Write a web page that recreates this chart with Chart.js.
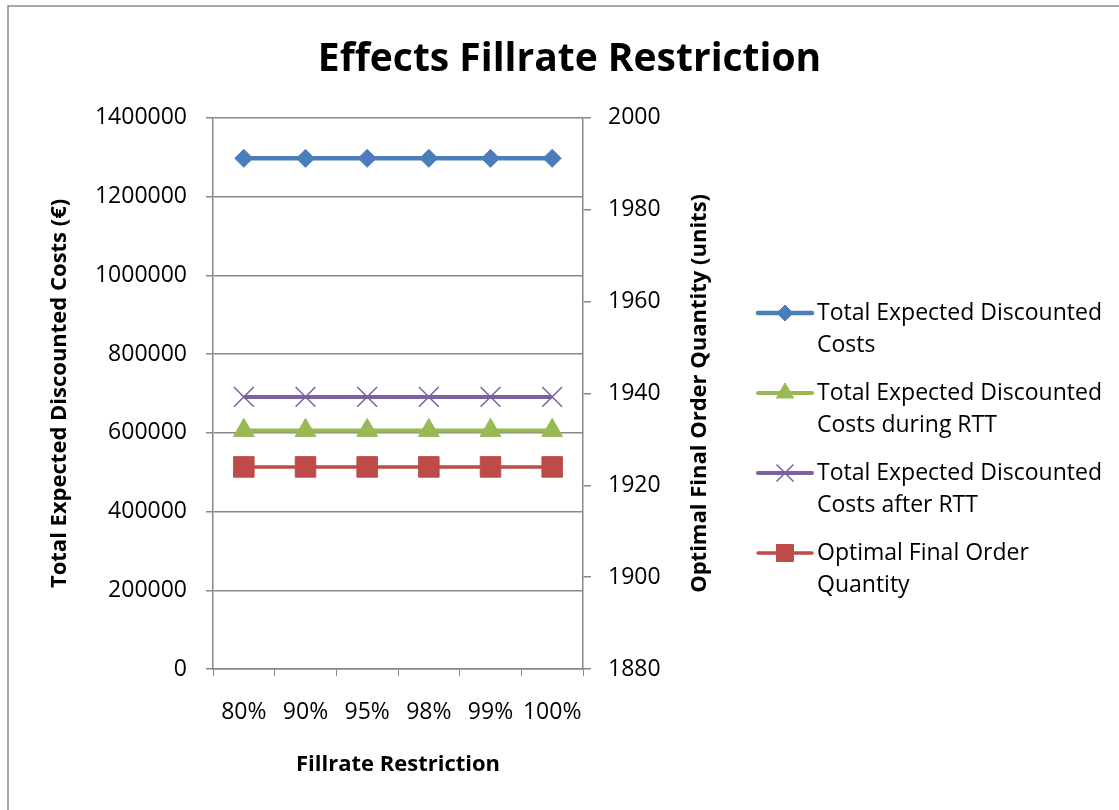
<!DOCTYPE html>
<html>
<head>
<meta charset="utf-8">
<title>Effects Fillrate Restriction</title>
<script src="https://cdn.jsdelivr.net/npm/chart.js@4.4.1/dist/chart.umd.min.js"></script>
<style>
  html, body { margin: 0; padding: 0; background: #ffffff; }
  #wrap { width: 1119px; height: 810px; }
</style>
</head>
<body>
<div id="wrap"><canvas id="chart" width="1119" height="810"></canvas></div>
<script>
// Fillrate levels on the x axis
const categories = ['80%', '90%', '95%', '98%', '99%', '100%'];

// Cost series (left axis, €)
const totalCosts      = [1297000, 1297000, 1297000, 1297000, 1297000, 1297000];
const costsDuringRTT  = [606000, 606000, 606000, 606000, 606000, 606000];
const costsAfterRTT   = [691000, 691000, 691000, 691000, 691000, 691000];

// Order quantity series (right axis, units)
const finalOrderQty   = [1924, 1924, 1924, 1924, 1924, 1924];

// Axis ranges
const leftAxis  = { min: 0, max: 1400000, step: 200000 };
const rightAxis = { min: 1880, max: 2000, step: 20 };

const chartTitle = 'Effects Fillrate Restriction';
const xTitle = 'Fillrate Restriction';
const yLeftTitle = 'Total Expected Discounted Costs (€)';
const yRightTitle = 'Optimal Final Order Quantity (units)';

const seriesNames = [
  ['Total Expected Discounted', 'Costs'],
  ['Total Expected Discounted', 'Costs during RTT'],
  ['Total Expected Discounted', 'Costs after RTT'],
  ['Optimal Final Order', 'Quantity']
];

const FONT = "'Open Sans', 'DejaVu Sans', sans-serif";
const GRID = '#888888';

const BLUE = '#4A7EBB', GREEN = '#98B954', PURPLE = '#7D60A0', RED = '#BE4B48';

// Plain integer tick text, no thousands separators
const plainTick = (v) => String(v);

// Outer frame of the chart object
const framePlugin = {
  id: 'frame',
  beforeDraw(chart) {
    const ctx = chart.ctx;
    ctx.save();
    ctx.fillStyle = '#ffffff';
    ctx.fillRect(0, 0, chart.width, chart.height);
    ctx.strokeStyle = '#8a8a8a';
    ctx.lineWidth = 1.5;
    ctx.strokeRect(8, 6, chart.width + 50, chart.height + 50);
    ctx.restore();
  }
};

// Right axis title (reads bottom-to-top) and the side legend
const sidePlugin = {
  id: 'side',
  afterDraw(chart) {
    const ctx = chart.ctx;
    const area = chart.chartArea;
    ctx.save();
    ctx.fillStyle = '#000000';
    ctx.font = 'bold 22px ' + FONT;
    ctx.textAlign = 'center';
    ctx.textBaseline = 'middle';
    ctx.translate(700, (area.top + area.bottom) / 2);
    ctx.rotate(-Math.PI / 2);
    ctx.fillText(yRightTitle, 0, 0);
    ctx.restore();

    const ds = chart.data.datasets;
    const x0 = 758, x1 = 812, xm = 785, tx = 817;
    const firstY = 313, rowGap = 80, lineGap = 32;
    ds.forEach((d, i) => {
      const y = firstY + i * rowGap;
      ctx.save();
      ctx.strokeStyle = d.borderColor;
      ctx.lineWidth = d.borderWidth;
      ctx.lineCap = 'round';
      ctx.beginPath();
      ctx.moveTo(x0, y);
      ctx.lineTo(x1, y);
      ctx.stroke();
      ctx.restore();

      ctx.save();
      ctx.fillStyle = d.pointBackgroundColor;
      ctx.strokeStyle = d.pointBorderColor;
      ctx.lineWidth = d.pointBorderWidth;
      Chart.helpers.drawPoint(ctx, {
        pointStyle: d.pointStyle,
        radius: d.legendRadius,
        borderWidth: d.pointBorderWidth
      }, xm, y);
      ctx.restore();

      ctx.save();
      ctx.fillStyle = '#000000';
      ctx.font = '23px ' + FONT;
      ctx.textAlign = 'left';
      ctx.textBaseline = 'middle';
      seriesNames[i].forEach((line, j) => ctx.fillText(line, tx, y + j * lineGap));
      ctx.restore();
    });
  }
};

new Chart(document.getElementById('chart'), {
  type: 'line',
  data: {
    labels: categories,
    datasets: [
      {
        label: seriesNames[0].join(' '),
        data: totalCosts, yAxisID: 'y',
        borderColor: BLUE, borderWidth: 4.5,
        pointStyle: 'rectRot', pointRadius: 9, legendRadius: 8,
        pointBackgroundColor: BLUE, pointBorderColor: BLUE, pointBorderWidth: 1
      },
      {
        label: seriesNames[1].join(' '),
        data: costsDuringRTT, yAxisID: 'y',
        borderColor: GREEN, borderWidth: 4,
        pointStyle: 'triangle', pointRadius: 12, legendRadius: 10,
        pointBackgroundColor: GREEN, pointBorderColor: GREEN, pointBorderWidth: 1
      },
      {
        label: seriesNames[2].join(' '),
        data: costsAfterRTT, yAxisID: 'y',
        borderColor: PURPLE, borderWidth: 4,
        pointStyle: 'crossRot', pointRadius: 14, legendRadius: 12,
        pointBackgroundColor: PURPLE, pointBorderColor: PURPLE, pointBorderWidth: 1.5
      },
      {
        label: seriesNames[3].join(' '),
        data: finalOrderQty, yAxisID: 'y1',
        borderColor: RED, borderWidth: 3.5,
        pointStyle: 'rect', pointRadius: 14.5, legendRadius: 12,
        pointBackgroundColor: RED, pointBorderColor: RED, pointBorderWidth: 1
      }
    ]
  },
  options: {
    responsive: false,
    animation: false,
    devicePixelRatio: 1,
    layout: { padding: { left: 20, top: 12, right: 0, bottom: 0 } },
    elements: { line: { tension: 0 } },
    plugins: {
      legend: { display: false },
      tooltip: { enabled: false },
      title: {
        display: true,
        text: chartTitle,
        color: '#000000',
        font: { family: FONT, size: 39, weight: 'bold', lineHeight: 1.2 },
        padding: { top: 24, bottom: 35 }
      }
    },
    scales: {
      x: {
        offset: true,
        afterFit(s) { s.height = 141; },
        grid: { display: true, drawOnChartArea: false, drawTicks: true, tickLength: 7, offset: true, color: GRID },
        border: { display: true, color: GRID, width: 1.5 },
        ticks: { color: '#000000', font: { family: FONT, size: 23 }, padding: 23, maxRotation: 0, minRotation: 0, autoSkip: false },
        title: {
          display: true, text: xTitle, color: '#000000',
          font: { family: FONT, size: 22, weight: 'bold', lineHeight: 1.2 },
          padding: { top: 0, bottom: 32 }
        }
      },
      y: {
        position: 'left',
        min: leftAxis.min, max: leftAxis.max,
        afterFit(s) { s.width = 193; },
        grid: { color: GRID, lineWidth: 1.5, tickLength: 7, drawTicks: true },
        border: { display: true, color: GRID, width: 1.5 },
        ticks: { stepSize: leftAxis.step, color: '#000000', font: { family: FONT, size: 23 }, padding: 19, callback: plainTick },
        title: {
          display: true, text: yLeftTitle, color: '#000000',
          font: { family: FONT, size: 22, weight: 'bold', lineHeight: 1.2 },
          padding: { top: 27, bottom: 0 }
        }
      },
      y1: {
        position: 'right',
        min: rightAxis.min, max: rightAxis.max,
        afterFit(s) { s.width = 536; },
        grid: { drawOnChartArea: false, color: GRID, lineWidth: 1.5, tickLength: 8, drawTicks: true },
        border: { display: true, color: GRID, width: 1.5 },
        ticks: { stepSize: rightAxis.step, color: '#000000', font: { family: FONT, size: 23 }, padding: 17, callback: plainTick }
      }
    }
  },
  plugins: [framePlugin, sidePlugin]
});
</script>
</body>
</html>
